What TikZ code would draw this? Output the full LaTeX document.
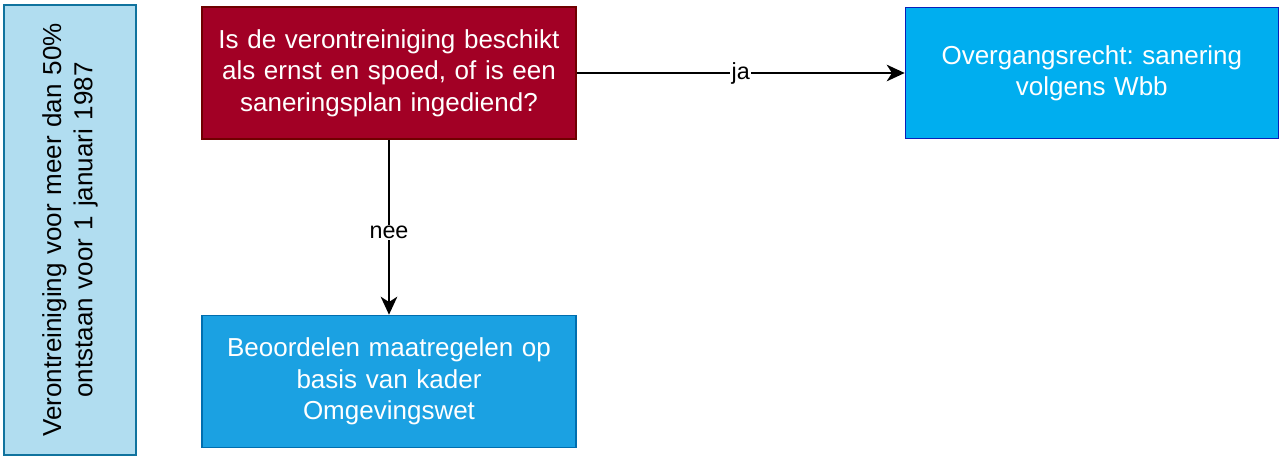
\documentclass[tikz,border=0pt]{standalone}
\usepackage{fontspec}
\setmainfont{Liberation Sans}
\usetikzlibrary{positioning,arrows.meta}
\frenchspacing
\definecolor{lichtblauw}{HTML}{B1DDF0}
\definecolor{lichtrand}{HTML}{10739E}
\definecolor{rood}{HTML}{A20025}
\definecolor{roodrand}{HTML}{6F0000}
\definecolor{helder}{HTML}{00AEEF}
\definecolor{helderrand}{HTML}{0A1FB8}
\definecolor{blauw}{HTML}{1BA1E2}
\definecolor{blauwrand}{HTML}{006EAF}
\tikzset{
  box/.style={rectangle,draw,line width=1pt,text=white,align=center,
    minimum width=280.5pt,minimum height=99pt,text width=270pt,
    font=\fontsize{19.5}{23.5}\selectfont},
  lbl/.style={fill=white,inner sep=1pt,font=\fontsize{17.5}{20}\selectfont},
  pijl/.style={-{Stealth[length=13.5pt,width=12.5pt,inset=4pt]},line width=1.2pt}
}

\begin{document}
\begin{tikzpicture}[x=0.75pt,y=-0.75pt]
\useasboundingbox (0,0) rectangle (1282,471);

\node [box,fill=rood,draw=roodrand] (vraag) at (389,73)
  {Is de verontreiniging beschikt\\als ernst en spoed, of is een\\saneringsplan ingediend?};
\node [box,fill=helder,draw=helderrand,minimum width=279.75pt,minimum height=98.25pt,
  right=246pt of vraag] (wbb) {Overgangsrecht: sanering\\volgens Wbb};
\node [box,fill=blauw,draw=blauwrand,below=131.25pt of vraag] (omgw)
  {Beoordelen maatregelen op\\basis van kader\\Omgevingswet};
\node [box,fill=lichtblauw,draw=lichtrand,text=black,rotate=90,
  minimum width=337.5pt,minimum height=99pt,text width=325pt] (start) at (70,230)
  {Verontreiniging voor meer dan 50\%\\ontstaan voor 1 januari 1987};

\draw [pijl] (vraag) -- (wbb) node [lbl,midway] {ja};
\draw [pijl] (vraag) -- (omgw) node [lbl,pos=0.53] {nee};
\end{tikzpicture}
\end{document}
